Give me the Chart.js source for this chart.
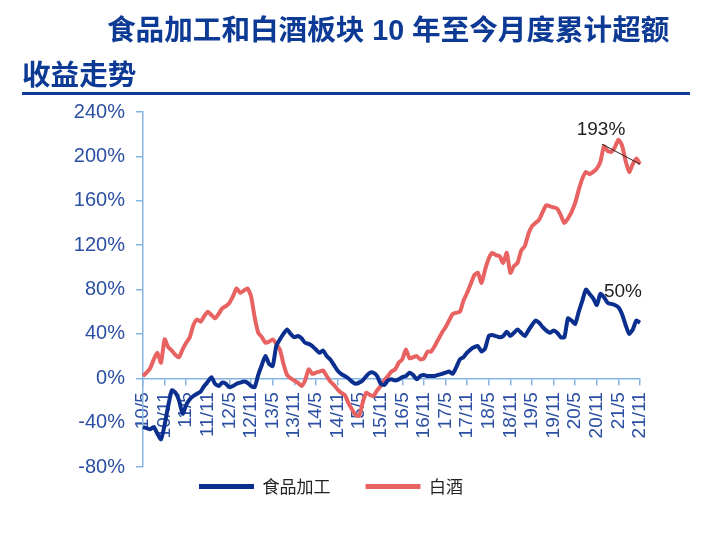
<!DOCTYPE html>
<html>
<head>
<meta charset="utf-8">
<script src="https://cdn.jsdelivr.net/npm/chart.js@4/dist/chart.umd.min.js"></script>
<style>
  body { margin: 0; background: #fff; }
  #wrap { position: relative; width: 706px; height: 541px; }
  #c { position: absolute; left: 0; top: 0; }
  .title { position: absolute; color: #0D3A94; font: bold 28.6px "Liberation Sans", "Noto Sans CJK SC", sans-serif; white-space: nowrap; line-height: 34px; }
  #rule { position: absolute; left: 22px; top: 92px; width: 668px; height: 3px; background: #0D3A94; }
</style>
</head>
<body>
<div id="wrap">
  <canvas id="c" width="706" height="541"></canvas>
  <div class="title" style="left:107px; top:13px;">食品加工和白酒板块 10 年至今月度累计超额</div>
  <div class="title" style="left:22px; top:58px;">收益走势</div>
  <div id="rule"></div>
</div>
<script>
// 月份标签 2010/5 ~ 2021/11
const months = [];
for (let y = 2010, m = 5; y < 2021 || (y === 2021 && m <= 11); m++) {
    if (m > 12) { m = 1; y++; }
    months.push(String(y).slice(2) + '/' + m);
}

// 食品加工 累计超额收益(%)
const foodProc = [
    -44, -45, -46, -44, -50, -55, -42, -25, -11, -13,
    -20, -32, -24, -19, -16, -14, -12, -7, -3, 1,
    -5, -7, -4, -5, -8, -7, -5, -4, -3, -4,
    -7, -8, 3, 12, 20, 13, 11, 29, 35, 40,
    44, 40, 37, 38, 36, 32, 31, 29, 26, 23,
    25, 20, 17, 12, 7, 4, 2, 0, -3, -5,
    -4, -2, 2, 5, 5, 2, -5, -6, -2, -1,
    -2, -1, 1, 2, 5, 3, -1, 2, 3, 2,
    2, 2, 3, 4, 5, 6, 4, 10, 17, 19,
    23, 26, 28, 29, 24, 27, 38, 39, 38, 37,
    38, 42, 38, 41, 44, 41, 38, 43, 48, 52,
    50, 46, 43, 41, 43, 41, 37, 37, 54, 52,
    49, 60, 70, 80, 76, 72, 66, 76, 73, 68,
    67, 66, 64, 58, 48, 40, 44, 52, 50
];

// 白酒 累计超额收益(%)
const baijiu = [
    2, 5, 9, 17, 23, 14, 35, 28, 25, 21,
    19, 26, 32, 37, 48, 53, 51, 56, 60, 57,
    54, 58, 63, 65, 68, 74, 81, 77, 79, 81,
    74, 55, 41, 37, 32, 33, 35, 31, 26, 13,
    3, 0, -2, -4, -7, -2, 8, 4, 5, 6,
    7, 2, -3, -6, -10, -13, -15, -22, -28, -33,
    -34, -22, -13, -15, -16, -11, -7, -2, 2, 6,
    8, 14, 17, 26, 18, 19, 20, 17, 18, 24,
    24, 29, 35, 41, 46, 52, 58, 59, 60, 70,
    77, 85, 93, 95, 86, 98, 108, 113, 111, 110,
    104, 113, 95, 101, 104, 115, 119, 130, 137, 140,
    143, 150, 156, 155, 154, 153, 147, 140, 144, 150,
    158, 170, 180, 186, 184, 186, 189, 195, 209, 205,
    204, 208, 215, 210, 196, 186, 193, 198, 193
];

const blue = '#0B2F8E';
const red = '#E86262';
const axisBlue = '#86B4E2';
const tickBlue = '#2B4FA2';

// 末端数值标注
const endLabels = {
    id: 'endLabels',
    afterDatasetsDraw(chart) {
        const ctx = chart.ctx;
        const pf = chart.getDatasetMeta(0).data[foodProc.length - 1];
        const pb = chart.getDatasetMeta(1).data[baijiu.length - 1];
        ctx.save();
        ctx.fillStyle = '#222';
        ctx.font = '19px "Liberation Sans", Arial, sans-serif';
        ctx.textAlign = 'center';
        ctx.textBaseline = 'middle';
        ctx.fillText(baijiu[baijiu.length - 1] + '%', pb.x - 39, pb.y - 34);
        ctx.strokeStyle = '#222';
        ctx.lineWidth = 1;
        ctx.beginPath();
        ctx.moveTo(pb.x - 38, pb.y - 20);
        ctx.lineTo(pb.x, pb.y);
        ctx.stroke();
        ctx.fillText(foodProc[foodProc.length - 1] + '%', pf.x - 17, pf.y - 31);
        ctx.restore();
    }
};

// 图例上移(labels.padding 同时作用于纵向)
const legendShift = {
    id: 'legendShift',
    afterLayout(chart) {
        chart.legend.top -= 24;
        chart.legend.bottom -= 24;
    }
};

const ctx = document.getElementById('c').getContext('2d');
const chart = new Chart(ctx, {
    type: 'line',
    data: {
        labels: months,
        datasets: [{
            label: '食品加工',
            data: foodProc,
            borderColor: blue,
            backgroundColor: blue,
            borderWidth: 4,
            pointRadius: 0,
            tension: 0.2
        }, {
            label: '白酒',
            data: baijiu,
            borderColor: red,
            backgroundColor: red,
            borderWidth: 4,
            pointRadius: 0,
            tension: 0.2
        }]
    },
    options: {
        responsive: false,
        animation: false,
        layout: { padding: { left: 22, top: 112, right: 66, bottom: 12 } },
        plugins: {
            legend: {
                position: 'bottom',
                labels: {
                    boxWidth: 55,
                    boxHeight: 5,
                    padding: 35,
                    color: '#222',
                    font: { family: '"Noto Sans CJK SC", sans-serif', size: 17 },
                    generateLabels: c => Chart.defaults.plugins.legend.labels.generateLabels(c)
                        .map(l => ({ ...l, fillStyle: l.strokeStyle, lineWidth: 0 }))
                }
            },
            tooltip: { enabled: false }
        },
        scales: {
            x: {
                position: { y: 0 },
                offset: false,
                grid: { drawOnChartArea: false, tickLength: 6, color: axisBlue, lineWidth: 1.5 },
                border: { color: axisBlue, width: 1.5 },
                ticks: {
                    autoSkip: false,
                    minRotation: 90,
                    maxRotation: 90,
                    padding: 8,
                    color: tickBlue,
                    font: { family: '"Liberation Sans", Arial, sans-serif', size: 19 },
                    callback: (v, i) => (i % 6 === 0 ? months[i] : null)
                }
            },
            y: {
                min: -80,
                max: 240,
                afterFit: s => { s.width = 121; },
                grid: { drawOnChartArea: false, tickLength: 7, color: axisBlue, lineWidth: 1.5 },
                border: { color: axisBlue, width: 1.5 },
                ticks: {
                    stepSize: 40,
                    padding: 11,
                    color: tickBlue,
                    font: { family: '"Liberation Sans", Arial, sans-serif', size: 20 },
                    callback: v => v + '%'
                }
            }
        }
    },
    plugins: [endLabels, legendShift]
});
</script>
</body>
</html>
